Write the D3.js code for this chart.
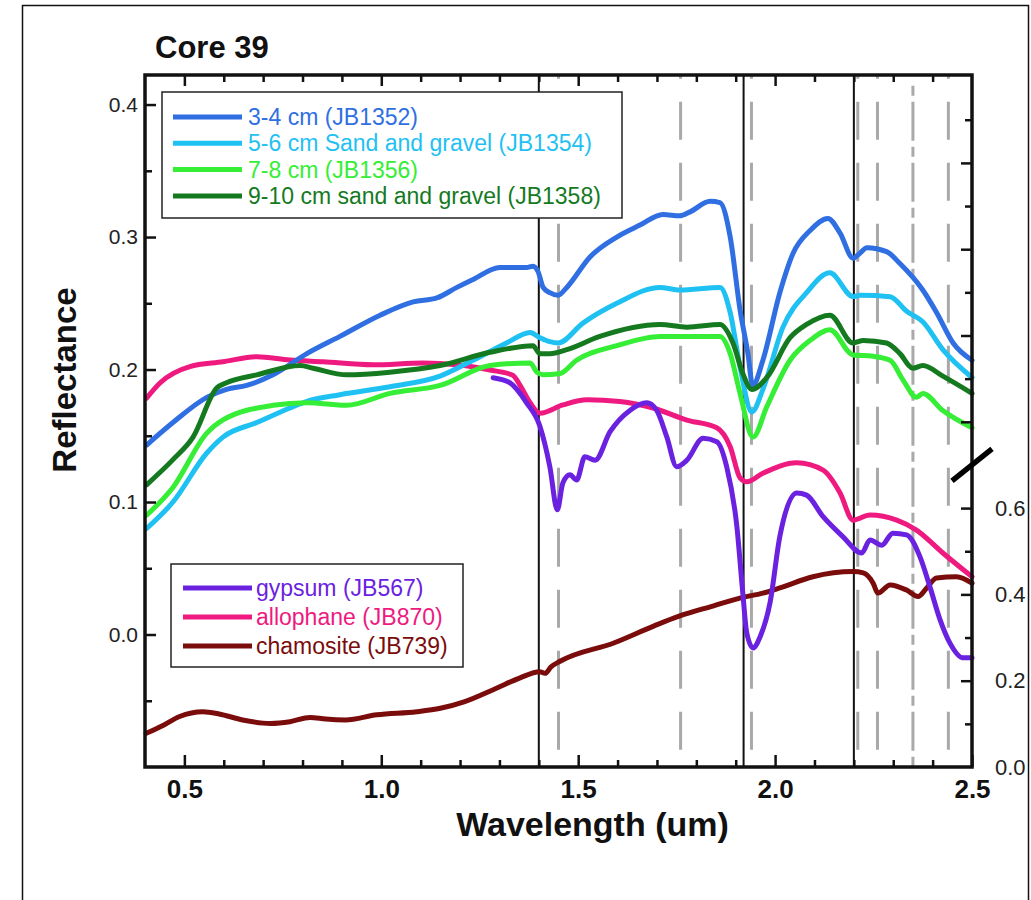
<!DOCTYPE html>
<html><head><meta charset="utf-8">
<script src="https://cdn.jsdelivr.net/npm/d3@7"></script>
<style>body{margin:0;background:#fff}svg{display:block}text{font-family:"Liberation Sans",Arial,sans-serif}</style>
</head><body><svg id="c" width="1031" height="900"></svg>
<script>
// ---------- data ----------
const title = "Core 39";
const xLabel = "Wavelength (um)";
const yLabel = "Reflectance";
const xTicks = [0.5, 1.0, 1.5, 2.0, 2.5];
const leftTicks = [0.0, 0.1, 0.2, 0.3, 0.4];
const rightTicks = [0.0, 0.2, 0.4, 0.6];
const solidLines = [1.40, 1.92, 2.20];
const dashedLines = [1.45, 1.76, 1.94, 2.21, 2.26, 2.44];
const dashDotLines = [2.35];

const sampleNames = ["3-4 cm (JB1352)", "5-6 cm Sand and gravel (JB1354)", "7-8 cm (JB1356)", "9-10 cm sand and gravel (JB1358)"];
const sampleColors = ["#2f6fe2", "#1fc1f2", "#35ee35", "#157a1f"];
const mineralNames = ["gypsum (JB567)", "allophane (JB870)", "chamosite (JB739)"];
const mineralColors = ["#6a22e0", "#ee1a80", "#7a0c0c"];

const wlJB1352 = [0.404,0.471,0.557,0.607,0.658,0.725,0.811,0.895,0.997,1.081,1.141,1.192,1.233,1.301,1.369,1.385,1.398,1.411,1.428,1.449,1.471,1.530,1.598,1.657,1.715,1.758,1.784,1.835,1.860,1.886,1.911,1.931,1.943,1.969,2.012,2.046,2.089,2.134,2.165,2.198,2.216,2.233,2.283,2.317,2.375,2.410,2.452,2.500];
const refJB1352 = [0.143,0.160,0.179,0.185,0.188,0.196,0.212,0.225,0.241,0.251,0.254,0.262,0.268,0.277,0.277,0.278,0.274,0.262,0.258,0.256,0.262,0.285,0.300,0.309,0.317,0.316,0.319,0.327,0.326,0.300,0.245,0.212,0.188,0.207,0.258,0.288,0.305,0.314,0.303,0.284,0.288,0.292,0.289,0.280,0.260,0.243,0.220,0.207];

const wlJB1354 = [0.404,0.471,0.557,0.598,0.684,0.768,0.811,0.895,1.022,1.149,1.233,1.318,1.378,1.403,1.428,1.449,1.512,1.598,1.708,1.758,1.860,1.886,1.911,1.941,1.969,2.020,2.080,2.139,2.198,2.216,2.292,2.334,2.375,2.426,2.500];
const refJB1354 = [0.080,0.100,0.137,0.149,0.160,0.171,0.176,0.181,0.187,0.195,0.207,0.220,0.228,0.224,0.221,0.220,0.235,0.250,0.262,0.260,0.262,0.243,0.202,0.168,0.185,0.232,0.258,0.273,0.255,0.256,0.255,0.244,0.236,0.215,0.194];

const wlJB1356 = [0.404,0.471,0.557,0.598,0.725,0.811,0.912,1.022,1.149,1.276,1.378,1.395,1.411,1.454,1.496,1.598,1.708,1.860,1.886,1.911,1.944,1.979,2.038,2.089,2.139,2.198,2.249,2.292,2.325,2.359,2.375,2.426,2.500];
const refJB1356 = [0.090,0.111,0.152,0.162,0.173,0.175,0.173,0.182,0.188,0.203,0.205,0.198,0.196,0.197,0.207,0.218,0.225,0.225,0.212,0.182,0.149,0.172,0.207,0.222,0.230,0.211,0.210,0.207,0.192,0.179,0.182,0.169,0.156];

const wlJB1358 = [0.404,0.471,0.522,0.582,0.607,0.684,0.794,0.827,0.912,1.022,1.149,1.276,1.385,1.403,1.428,1.471,1.555,1.708,1.776,1.860,1.893,1.918,1.941,1.979,2.038,2.080,2.139,2.198,2.224,2.283,2.317,2.350,2.375,2.426,2.500];
const refJB1358 = [0.113,0.132,0.149,0.186,0.190,0.196,0.203,0.201,0.196,0.198,0.203,0.213,0.218,0.212,0.212,0.215,0.225,0.234,0.232,0.234,0.220,0.197,0.185,0.194,0.224,0.234,0.241,0.220,0.222,0.220,0.212,0.201,0.203,0.195,0.182];

// minerals use the right-hand axis
const wlJB567 = [1.284,1.327,1.369,1.403,1.428,1.447,1.461,1.479,1.496,1.517,1.543,1.581,1.632,1.674,1.699,1.725,1.750,1.776,1.817,1.852,1.877,1.903,1.918,1.928,1.944,1.962,1.987,2.012,2.055,2.080,2.122,2.172,2.220,2.241,2.271,2.299,2.334,2.368,2.393,2.419,2.444,2.477,2.500];
const refJB567 = [0.902,0.890,0.844,0.789,0.696,0.596,0.658,0.677,0.665,0.719,0.711,0.777,0.827,0.844,0.827,0.765,0.696,0.711,0.762,0.754,0.696,0.557,0.403,0.311,0.276,0.302,0.380,0.534,0.635,0.630,0.580,0.534,0.496,0.526,0.514,0.542,0.538,0.487,0.418,0.341,0.287,0.253,0.253];

const wlJB870 = [0.404,0.438,0.514,0.598,0.684,0.768,0.852,0.979,1.106,1.192,1.276,1.334,1.352,1.378,1.403,1.461,1.522,1.606,1.690,1.776,1.852,1.886,1.911,1.928,1.969,2.055,2.122,2.165,2.198,2.241,2.309,2.359,2.426,2.500];
const refJB870 = [0.855,0.890,0.928,0.939,0.951,0.943,0.939,0.932,0.936,0.932,0.920,0.908,0.885,0.844,0.820,0.839,0.851,0.847,0.832,0.804,0.786,0.742,0.670,0.661,0.681,0.705,0.688,0.635,0.572,0.584,0.572,0.549,0.496,0.441];

const wlJB739 = [0.403,0.447,0.488,0.547,0.588,0.648,0.719,0.768,0.819,0.859,0.909,0.989,1.090,1.150,1.210,1.291,1.351,1.402,1.416,1.431,1.454,1.592,1.693,1.758,1.842,1.913,1.969,2.012,2.096,2.198,2.224,2.249,2.261,2.292,2.334,2.363,2.385,2.410,2.461,2.500];
const refJB739 = [0.078,0.097,0.117,0.128,0.123,0.109,0.101,0.105,0.115,0.111,0.109,0.121,0.128,0.136,0.151,0.182,0.206,0.221,0.217,0.232,0.245,0.288,0.327,0.350,0.373,0.392,0.403,0.415,0.441,0.453,0.450,0.426,0.403,0.422,0.410,0.395,0.415,0.438,0.441,0.426];

// ---------- layout ----------
const L = 145, R = 972, T = 75, B = 767;
const svg = d3.select("#c");
svg.append("rect").attr("width",1031).attr("height",900).attr("fill","#fff");
svg.append("rect").attr("x",22.5).attr("y",5.5).attr("width",1006).attr("height",900)
  .attr("fill","none").attr("stroke","#111").attr("stroke-width",1.5);

const x = d3.scaleLinear().domain([0.4, 2.5]).range([L, R]);
const yL = d3.scaleLinear().domain([-0.1, 0.4223]).range([B, T]);
const yR = d3.scaleLinear().domain([0, 1.6037]).range([B, T]);

// reference lines
const g0 = svg.append("g");
dashedLines.forEach(w => g0.append("line").attr("x1",x(w)).attr("x2",x(w)).attr("y1",T).attr("y2",B)
  .attr("stroke","#a9a9a9").attr("stroke-width",3).attr("stroke-dasharray","38,23").attr("stroke-dashoffset",34.3));
dashDotLines.forEach(w => g0.append("line").attr("x1",x(w)).attr("x2",x(w)).attr("y1",T+10).attr("y2",B)
  .attr("stroke","#a9a9a9").attr("stroke-width",3).attr("stroke-dasharray","39,6,10,6").attr("stroke-dashoffset",44.3));
solidLines.forEach(w => g0.append("line").attr("x1",x(w)).attr("x2",x(w)).attr("y1",T).attr("y2",B)
  .attr("stroke","#111").attr("stroke-width",2));

// curves
const mk = (wl, v, ys) => wl.map((w,i)=>[x(w), ys(v[i])]);
const line = d3.line().curve(d3.curveMonotoneX);
const sampleSeries = [[wlJB1352,refJB1352],[wlJB1354,refJB1354],[wlJB1356,refJB1356],[wlJB1358,refJB1358]];
const mineralSeries = [[wlJB567,refJB567],[wlJB870,refJB870],[wlJB739,refJB739]];
const gC = svg.append("g").attr("fill","none").attr("stroke-width",5).attr("stroke-linejoin","round").attr("stroke-linecap","round");
mineralSeries.slice().reverse().forEach((s,i)=>{
  const k = 2-i;
  gC.append("path").attr("d", line(mk(s[0], s[1], yR))).attr("stroke", mineralColors[k]);
});
sampleSeries.forEach((s,k)=>{
  gC.append("path").attr("d", line(mk(s[0], s[1], yL))).attr("stroke", sampleColors[k]);
});

// legends
function legend(x0, y0, w, h, names, colors, lx0, lx1, tx, ry0, dy){
  const g = svg.append("g");
  g.append("rect").attr("x",x0).attr("y",y0).attr("width",w).attr("height",h)
    .attr("fill","#fff").attr("stroke","#222").attr("stroke-width",1.5);
  names.forEach((n,i)=>{
    const yy = ry0 + i*dy;
    g.append("line").attr("x1",lx0).attr("x2",lx1).attr("y1",yy).attr("y2",yy)
      .attr("stroke",colors[i]).attr("stroke-width",5);
    g.append("text").attr("x",tx).attr("y",yy+8).attr("fill",colors[i])
      .attr("font-size",23).text(n);
  });
}
legend(162, 92, 460, 126, sampleNames, sampleColors, 173, 242, 248, 117, 26.3);
legend(171, 564, 292, 103, mineralNames, mineralColors, 183, 252, 256, 588, 29);

// axes (ticks inward)
const minorX = d3.range(5, 25).map(d=>d/10).filter(d=>!xTicks.includes(d));
svg.append("g").attr("transform",`translate(0,${B})`)
  .call(d3.axisBottom(x).tickValues(minorX).tickSize(-7).tickFormat(""));
const bx = svg.append("g").attr("transform",`translate(0,${B})`)
  .call(d3.axisBottom(x).tickValues(xTicks).tickSize(-12).tickPadding(13).tickFormat(d3.format(".1f")));
bx.selectAll("text").attr("font-size",26).attr("font-weight","bold").attr("fill","#111")
  .style("font-family","'Liberation Sans',Arial,sans-serif");
svg.append("g").attr("transform",`translate(0,${T})`)
  .call(d3.axisTop(x).tickValues(minorX).tickSize(-7).tickFormat(""));
svg.append("g").attr("transform",`translate(0,${T})`)
  .call(d3.axisTop(x).tickValues(xTicks.slice(0,4)).tickSize(-11).tickFormat(""));

const minorL = [-0.05,0.05,0.15,0.25,0.35];
svg.append("g").attr("transform",`translate(${L},0)`)
  .call(d3.axisLeft(yL).tickValues(minorL).tickSize(-7).tickFormat(""));
const ly = svg.append("g").attr("transform",`translate(${L},0)`)
  .call(d3.axisLeft(yL).tickValues(leftTicks).tickSize(-11).tickPadding(7).tickFormat(d3.format(".1f")));
ly.selectAll("text").attr("font-size",21).attr("fill","#222").style("font-family","'Liberation Sans',Arial,sans-serif");

const rMajor = [0.2,0.4,0.6,0.8,1.0,1.2,1.4];
const rMinor = [0.1,0.3,0.5,0.9,1.1,1.3,1.5];
svg.append("g").attr("transform",`translate(${R},0)`)
  .call(d3.axisRight(yR).tickValues(rMinor).tickSize(-7).tickFormat(""));
svg.append("g").attr("transform",`translate(${R},0)`)
  .call(d3.axisRight(yR).tickValues(rMajor).tickSize(-11).tickFormat(""));
const ry = svg.append("g").attr("transform",`translate(${R},0)`)
  .call(d3.axisRight(yR).tickValues(rightTicks).tickSize(0).tickPadding(23).tickFormat(d3.format(".1f")));
ry.selectAll("text").attr("font-size",22).attr("fill","#222").style("font-family","'Liberation Sans',Arial,sans-serif");
svg.selectAll(".domain").remove();
svg.selectAll(".tick line").attr("stroke","#111").attr("stroke-width",2.5);

// frame
svg.append("rect").attr("x",L).attr("y",T).attr("width",R-L).attr("height",B-T)
  .attr("fill","none").attr("stroke","#111").attr("stroke-width",3.5);

// axis break mark on right axis
svg.append("line").attr("x1",R-20).attr("y1",yR(0.7)+16).attr("x2",R+20).attr("y2",yR(0.7)-16)
  .attr("stroke","#000").attr("stroke-width",5.5);

// titles
svg.append("text").attr("x",155).attr("y",58).attr("font-size",31).attr("font-weight","bold").attr("fill","#111").text(title);
svg.append("text").attr("x",(L+R)/2+34).attr("y",836).attr("text-anchor","middle").attr("font-size",34)
  .attr("font-weight","bold").attr("fill","#111").text(xLabel);
svg.append("text").attr("transform",`translate(76,380) rotate(-90)`).attr("text-anchor","middle")
  .attr("font-size",33).attr("font-weight","bold").attr("fill","#111").text(yLabel);
</script></body></html>
